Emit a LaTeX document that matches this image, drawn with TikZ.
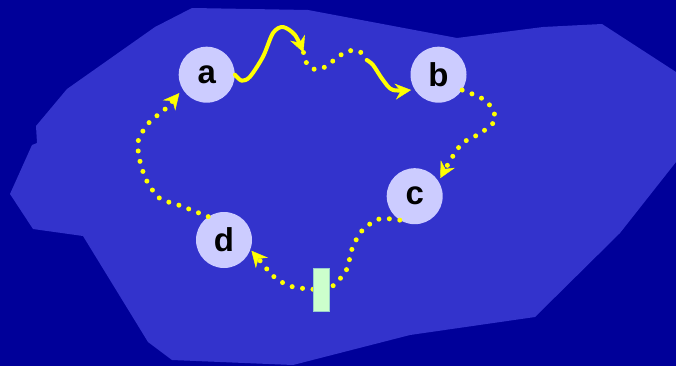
\documentclass[tikz,border=0pt]{standalone}
\usepackage{fontspec}
\setmainfont{Liberation Sans}
\usetikzlibrary{arrows.meta}
\definecolor{bgblue}{HTML}{000099}
\definecolor{blob}{HTML}{3333CC}
\definecolor{nodefill}{HTML}{CCCCFF}
\definecolor{yel}{HTML}{FFFF00}
\definecolor{mint}{HTML}{CCFFCC}
\definecolor{mintedge}{HTML}{99CCCC}
\tikzset{
  circ/.style={circle, fill=nodefill, minimum size=56pt, inner sep=0pt,
    font=\fontsize{33}{33}\selectfont\bfseries},
  dotline/.style={yel, line width=5pt, line cap=round,
    dash pattern=on 0pt off 10.5pt},
  wavy/.style={yel, line width=4pt, line cap=round, line join=round},
  tipped/.style={-{Stealth[length=16pt,width=16pt,inset=5.5pt,line width=0.4pt]}},
  gate/.style={draw=mintedge, line width=0.6pt, fill=mint, minimum width=16pt,
    minimum height=42.7pt, inner sep=0pt},
}
\begin{document}
\begin{tikzpicture}[x=1pt,y=-1pt]
\useasboundingbox (0,0) rectangle (676,366);
\fill[bgblue] (0,0) rectangle (676,366);
\fill[blob] (192,8) -- (308,10) -- (457,38) -- (543,27) -- (602,24) -- (676,72)
  -- (676,162) -- (620,233) -- (535,317) -- (410,335) -- (293,365) -- (172,360)
  -- (148,342) -- (83,236) -- (33,229) -- (10,194) -- (32,145) -- (37,143)
  -- (36,126) -- (67,89) -- (155,27) -- cycle;

\node[circ] (a) at (206.7,74.7) {a};
\node[circ] (b) at (438.5,74.7) {b};
\node[circ] (c) at (414.7,196.2) {c};
\node[circ] (d) at (224,240) {d};
\coordinate (m1) at (303.5,52.5);
\coordinate (m2) at (366.7,60);
\coordinate (rc) at (321.3,289.5);

% a -> b (solid, dotted, solid)
\draw[wavy, tipped] plot[smooth] coordinates {(a.east) (241.7,80.7) (250,76.7) (263,56.7) (273,33) (283,27) (295,35) (m1)};
\draw[dotline] plot[smooth] coordinates {(m1) (306,62) (313,69) (323,68) (332,61.7) (340.7,55) (350,50.7) (360,51.7) (m2)};
\draw[wavy, tipped, shorten >=3.5pt] plot[smooth] coordinates {(m2) (373,65) (383,80) (393,90) (b.-148)};

% b -> c
\draw[dotline, tipped, shorten >=3.5pt] plot[smooth] coordinates {(b.-33) (486,101) (495.3,119.3) (480.7,133) (462.3,143.3) (450.3,160.3) (c.32)};

% c -> d through the gate
\draw[dotline, tipped, shorten >=1.5pt] plot[smooth] coordinates {(c.-122) (379.3,219) (362,230.7) (352,249) (346.7,269.3) (333.7,285.3) (rc) (292.3,286.7) (274.3,277) (260.3,261) (d.-20)};
\node[gate] (r) at (rc) {};

% d -> a
\draw[dotline, tipped, shorten >=5pt] plot[smooth] coordinates {(d.124) (179.3,205.3) (159.7,198.3) (147,181.3) (140,161.3) (138.3,140.7) (149.3,122.3) (165.3,109) (a.-149)};
\end{tikzpicture}
\end{document}
